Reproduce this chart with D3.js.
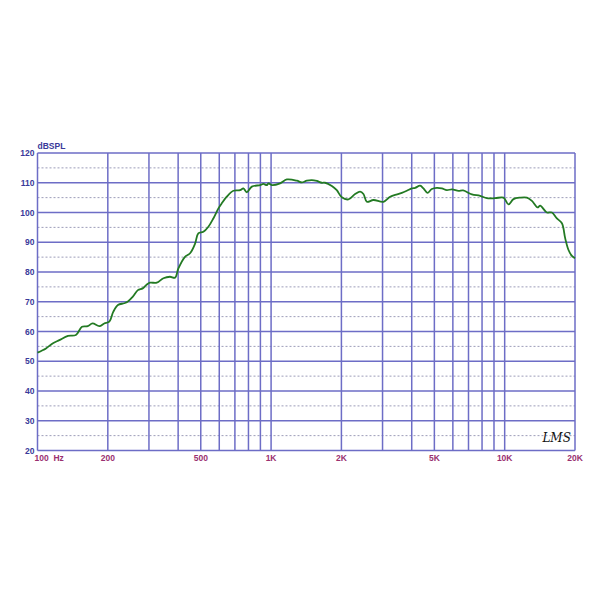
<!DOCTYPE html>
<html>
<head>
<meta charset="utf-8">
<script src="https://cdn.jsdelivr.net/npm/d3@7"></script>
<style>
  body { margin: 0; background: #fff; }
  .canvas svg { display: block; }
</style>
</head>
<body>
<div class="canvas"></div>
<script>
// frequency response (Hz, dB SPL)
const freqs = [100, 108.7, 116, 124, 135, 146, 155, 164, 172, 184, 193, 203, 211, 221, 235, 243,
  256, 269, 282, 292, 303, 324, 346, 369, 388, 401, 428, 450, 473, 488, 513, 539, 566, 595, 615,
  646, 690, 737, 761, 787, 827, 898, 927, 959, 974, 1007, 1093, 1168, 1289, 1354, 1422, 1494,
  1569, 1648, 1703, 1820, 1911, 2008, 2143, 2289, 2405, 2485, 2570, 2742, 3027, 3233, 3396,
  3628, 3812, 4005, 4138, 4346, 4490, 4670, 4877, 5124, 5383, 5655, 5941, 6341, 6643, 7237,
  7854, 8390, 9106, 9883, 10383, 10907, 11651, 12449, 13079, 13822, 14191, 15158, 15925,
  16730, 17580, 18160, 18760, 19400, 20000];
const spl = [52.9, 54.3, 56.0, 57.1, 58.5, 58.8, 61.6, 61.8, 62.7, 61.8, 62.7, 63.3, 66.6, 68.9,
  69.5, 70.0, 71.7, 73.9, 74.5, 75.6, 76.4, 76.4, 77.9, 78.4, 78.1, 81.2, 85.1, 86.3, 89.6, 93.0,
  93.5, 95.2, 98.0, 101.4, 103.1, 105.3, 107.3, 107.5, 108.1, 106.8, 108.7, 109.2, 109.6,
  109.2, 109.8, 109.2, 109.8, 111.1, 110.7, 110.1, 110.7, 110.9, 110.6, 110.0, 110.0, 108.9,
  107.5, 105.1, 104.4, 106.2, 107.0, 106.2, 103.6, 104.2, 103.6, 105.3, 105.9, 106.6, 107.3,
  108.1, 108.3, 109.0, 108.1, 106.6, 107.9, 108.3, 108.1, 107.5, 107.8, 107.3, 107.4, 106.1,
  105.6, 104.8, 104.8, 105.0, 102.7, 104.5, 105.0, 105.0, 103.9, 101.7, 102.3, 100.0, 100.0,
  98.0, 96.4, 91.3, 87.4, 85.4, 84.6];

const yTicks = [20, 30, 40, 50, 60, 70, 80, 90, 100, 110, 120];
const yMinor = [25, 35, 45, 55, 65, 75, 85, 95, 105, 115];
const xGrid = [100, 200, 300, 400, 500, 600, 700, 800, 900, 1000, 2000, 3000, 4000, 5000,
  6000, 7000, 8000, 9000, 10000, 20000];
const xLabels = [[100, '100  Hz'], [200, '200'], [500, '500'], [1000, '1K'], [2000, '2K'],
  [5000, '5K'], [10000, '10K'], [20000, '20K']];

const svg = d3.select('.canvas')
  .append('svg')
  .attr('width', 600)
  .attr('height', 600);

// plot box
const margin = {top: 153, left: 37.5};
const graphWidth = 537.5;
const graphHeight = 297.5;

const graph = svg.append('g')
  .attr('transform', `translate(${margin.left}, ${margin.top})`);

// scales
const x = d3.scaleLog().domain([100, 20000]).range([0, graphWidth]);
const y = d3.scaleLinear().domain([20, 120]).range([graphHeight, 0]);

const gridCol = '#6d6dc6';

// dotted 5 dB lines
graph.selectAll('line.minor')
  .data(yMinor)
  .enter().append('line')
  .attr('class', 'minor')
  .attr('x1', 0).attr('x2', graphWidth)
  .attr('y1', d => y(d)).attr('y2', d => y(d))
  .attr('stroke', '#9c9cb8')
  .attr('stroke-width', 1)
  .attr('stroke-dasharray', '2,2');

// solid horizontal lines
graph.selectAll('line.hmaj')
  .data(yTicks)
  .enter().append('line')
  .attr('class', 'hmaj')
  .attr('x1', 0).attr('x2', graphWidth)
  .attr('y1', d => y(d)).attr('y2', d => y(d))
  .attr('stroke', gridCol)
  .attr('stroke-width', 1.5);

// vertical log grid
graph.selectAll('line.vmaj')
  .data(xGrid)
  .enter().append('line')
  .attr('class', 'vmaj')
  .attr('x1', d => x(d)).attr('x2', d => x(d))
  .attr('y1', 0).attr('y2', graphHeight)
  .attr('stroke', gridCol)
  .attr('stroke-width', 1.5);

// y tick labels
graph.selectAll('text.ylab')
  .data(yTicks)
  .enter().append('text')
  .attr('class', 'ylab')
  .attr('x', -3)
  .attr('y', d => y(d) + 3)
  .attr('text-anchor', 'end')
  .attr('font-family', 'Liberation Sans, Arial, sans-serif')
  .attr('font-size', 8.5)
  .attr('font-weight', 'bold')
  .attr('fill', '#3a3a9a')
  .text(d => d);

graph.append('text')
  .attr('x', 0)
  .attr('y', -4)
  .attr('font-family', 'Liberation Sans, Arial, sans-serif')
  .attr('font-size', 8.5)
  .attr('font-weight', 'bold')
  .attr('fill', '#3a3a9a')
  .text('dBSPL');

// x tick labels
graph.selectAll('text.xlab')
  .data(xLabels)
  .enter().append('text')
  .attr('class', 'xlab')
  .attr('x', d => d[0] === 100 ? x(d[0]) - 3 : x(d[0]))
  .attr('y', graphHeight + 10)
  .attr('text-anchor', d => d[0] === 100 ? 'start' : 'middle')
  .attr('font-family', 'Liberation Sans, Arial, sans-serif')
  .attr('font-size', 8.5)
  .attr('font-weight', 'bold')
  .attr('fill', '#9a3070')
  .attr('xml:space', 'preserve')
  .style('white-space', 'pre')
  .text(d => d[1]);

// response curve
const pts = freqs.map((f, i) => [f, spl[i]]);
const line = d3.line()
  .x(d => x(d[0]))
  .y(d => y(d[1]))
  .curve(d3.curveCatmullRom.alpha(0.5));

graph.append('path')
  .datum(pts)
  .attr('fill', 'none')
  .attr('stroke', '#237a23')
  .attr('stroke-width', 1.8)
  .attr('d', line);

// signature
graph.append('text')
  .attr('x', x(14500))
  .attr('y', y(23))
  .attr('font-family', 'DejaVu Serif, serif')
  .attr('font-style', 'italic')
  .attr('font-size', 12)
  .attr('fill', '#111')
  .text('LMS');
</script>
</body>
</html>
